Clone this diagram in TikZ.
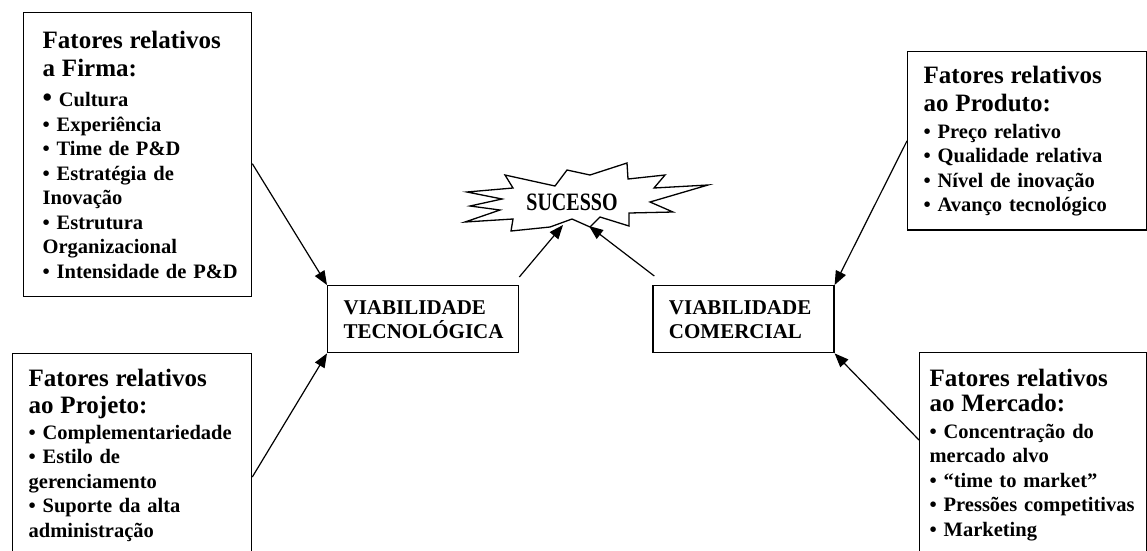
\documentclass[tikz,border=0pt]{standalone}
\usepackage{fontspec}
\setmainfont{Liberation Serif}
\usepackage{graphicx}
\usetikzlibrary{positioning,arrows.meta}
\newcommand{\ftitle}[1]{{\fontsize{25}{28}\selectfont #1}}

\begin{document}
\begin{tikzpicture}[x=1pt,y=-1pt,font=\bfseries]
\tikzstyle{factor}=[draw, line width=1.3pt, anchor=north west, align=left, inner xsep=16pt, inner ysep=15pt, text width=207pt, font=\fontsize{20.5}{24.5}\selectfont\bfseries]
\tikzstyle{viab}=[draw, line width=1.3pt, align=left, inner xsep=16pt, inner ysep=14.5pt, font=\fontsize{21}{24}\selectfont\bfseries]
\tikzstyle{burst}=[line width=1.3pt, fill=white, line join=miter]
\tikzstyle{connect}=[-{Triangle[length=14pt,width=11pt]}, line width=1.2pt]
\useasboundingbox (0,0) rectangle (1147,550);
\clip (0,0) rectangle (1147,550);
% fatores
\node[factor, text width=190pt, inner xsep=19pt, inner ysep=18.5pt] (firma) at (23,12) {\ftitle{Fatores~relativos}\\[3.5pt]
\ftitle{a~Firma:}\\[5.5pt]
{\fontsize{27}{24.5}\selectfont•}~Cultura\\
•~Experiência\\
•~Time~de~P\&D\\
•~Estratégia~de\\
Inovação\\
•~Estrutura\\
Organizacional\\
\mbox{•~Intensidade~de~P\&D}};
\node[factor] (projeto) at (12,353) {\ftitle{Fatores~relativos}\\[2.5pt]
\ftitle{ao~Projeto:}\\[1.5pt]
•~Complementariedade\\
•~Estilo~de\\
gerenciamento\\
•~Suporte~da~alta\\
administração};
\node[factor, inner ysep=14pt] (produto) at (907,51) {\ftitle{Fatores~relativos}\\[3.5pt]
\ftitle{ao~Produto:}\\[2.5pt]
•~Preço~relativo\\
•~Qualidade~relativa\\
•~Nível~de~inovação\\
•~Avanço~tecnológico};
\node[factor, inner xsep=10pt, inner ysep=16pt] (mercado) at (919,352) {\ftitle{Fatores~relativos}\\[0.5pt]
\ftitle{ao~Mercado:}\\[2.5pt]
•~Concentração~do\\
mercado~alvo\\
•~“time~to~market”\\
\mbox{•~Pressões~competitivas}\\
•~Marketing};
% viabilidades
\node[viab, text width=159pt, anchor=north west] (tec) at (327,285) {VIABILIDADE\\TECNOLÓGICA};
\node[viab, text width=149pt, right=133pt of tec] (com) {VIABILIDADE\\COMERCIAL};
% sucesso
\draw[burst] (505,175) -- (555,186) -- (567,170) -- (590,175) -- (627,163) -- (628,179)
  -- (665,175) -- (654,188) -- (708,185) -- (650,202) -- (673,212) -- (629,213)
  -- (629,226) -- (600,217) -- (590,227) -- (572,219) -- (550,227) -- (511,231)
  -- (513,219) -- (465,222) -- (500,210) -- (470,206) -- (502,199) -- (467,192)
  -- (513,188) -- cycle;
\node (sucesso) at (572,202) {\fontsize{25}{25}\selectfont\scalebox{0.8}[1]{SUCESSO}};
\coordinate (burstleft) at (563,225);
\coordinate (burstright) at (589,226);
% setas
\path ([yshift=-9pt]firma.east) edge[connect] (tec.north west);
\path ([yshift=-124pt]projeto.north east) edge[connect] (tec.south west);
\path (produto.west) edge[connect] (com.north east);
\path ([yshift=-88pt]mercado.north west) edge[connect] (com.south east);
\path ([yshift=8pt]tec.north east) edge[connect] (burstleft);
\path ([xshift=2pt,yshift=9pt]com.north west) edge[connect] (burstright);
\end{tikzpicture}
\end{document}
